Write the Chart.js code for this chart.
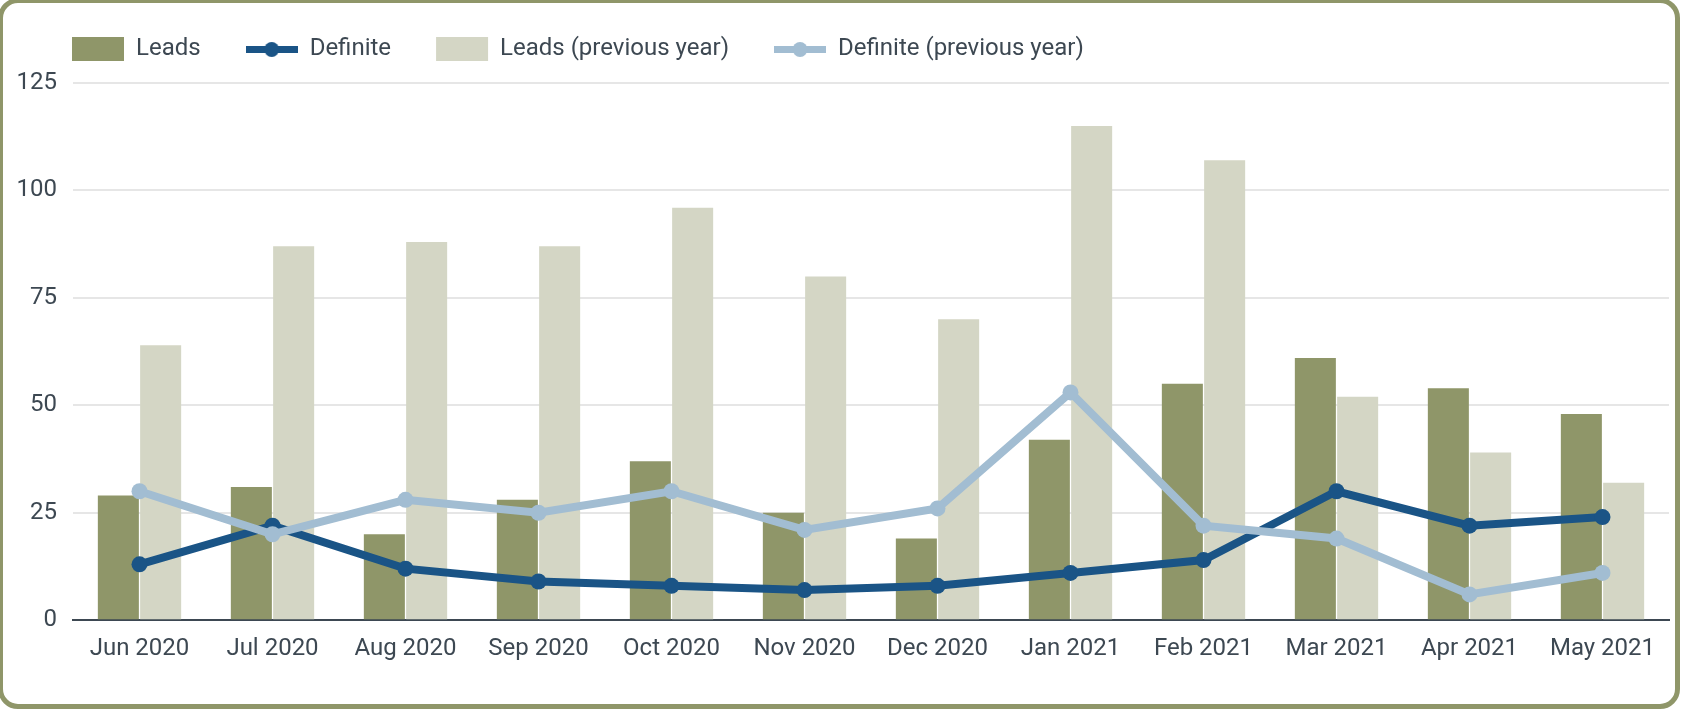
<!DOCTYPE html>
<html>
<head>
<meta charset="utf-8">
<script src="https://cdn.jsdelivr.net/npm/chart.js@4"></script>
<style>
  html, body { margin: 0; padding: 0; background: #fff; overflow: hidden; }
  #frame {
    position: absolute; left: -2px; top: -2px; width: 1682px; height: 711px;
    box-sizing: border-box; border: 5px solid #8f9669; border-radius: 20px;
  }
  #chart { position: absolute; left: 0; top: 0; }
</style>
</head>
<body>
<div id="frame"></div>
<canvas id="chart" width="1687" height="714"></canvas>
<script>
// months on the x axis
const months = ['Jun 2020', 'Jul 2020', 'Aug 2020', 'Sep 2020', 'Oct 2020', 'Nov 2020',
                'Dec 2020', 'Jan 2021', 'Feb 2021', 'Mar 2021', 'Apr 2021', 'May 2021'];

// series values
const leads        = [29, 31, 20, 28, 37, 25, 19, 42, 55, 61, 54, 48];
const definite     = [13, 22, 12,  9,  8,  7,  8, 11, 14, 30, 22, 24];
const leadsPrev    = [64, 87, 88, 87, 96, 80, 70, 115, 107, 52, 39, 32];
const definitePrev = [30, 20, 28, 25, 30, 21, 26, 53, 22, 19,  6, 11];

const yTicks = [0, 25, 50, 75, 100, 125];

const OLIVE = '#8f9669', OLIVE_LIGHT = '#d4d6c5';
const BLUE = '#1a5486', BLUE_LIGHT = '#a2bdd2';
const TEXT = '#3d4852';

// little line+dot marker for the legend
function lineMarker(color) {
  const c = document.createElement('canvas');
  c.width = 52; c.height = 16;
  const g = c.getContext('2d');
  g.fillStyle = color;
  g.fillRect(0, 5, 52, 7);
  g.beginPath();
  g.arc(26, 8.5, 7.5, 0, Math.PI * 2);
  g.fill();
  return c;
}

function lineSet(label, data, color, order) {
  return {
    type: 'line', label, data, order,
    borderColor: color, backgroundColor: color,
    borderWidth: 8, tension: 0,
    pointRadius: 8, pointHoverRadius: 8, pointBorderWidth: 0,
    pointBackgroundColor: color,
    legendMarker: lineMarker(color)
  };
}

// nudge the legend: left edge lines up with the plot, sits a bit higher
const legendNudge = {
  id: 'legendNudge',
  afterLayout(chart) {
    chart.legend.left += 12;
    chart.legend.top -= 12;
  }
};

Chart.defaults.font.family = 'Roboto';
Chart.defaults.color = TEXT;

new Chart(document.getElementById('chart'), {
  type: 'bar',
  data: {
    labels: months,
    datasets: [
      { label: 'Leads', data: leads, backgroundColor: OLIVE, order: 2,
        barPercentage: 0.97, categoryPercentage: 0.636 },
      lineSet('Definite', definite, BLUE, 1),
      { label: 'Leads (previous year)', data: leadsPrev, backgroundColor: OLIVE_LIGHT, order: 3,
        barPercentage: 0.97, categoryPercentage: 0.636 },
      lineSet('Definite (previous year)', definitePrev, BLUE_LIGHT, 0)
    ]
  },
  options: {
    responsive: false,
    animation: false,
    layout: { padding: { left: 15, right: 18, top: 4, bottom: 37 } },
    plugins: {
      tooltip: { enabled: false },
      legend: {
        align: 'start',
        labels: {
          font: { size: 24 },
          color: TEXT,
          padding: 45,
          usePointStyle: true,
          pointStyleWidth: 52,
          boxHeight: 24,
          sort: (a, b) => a.datasetIndex - b.datasetIndex,
          generateLabels(chart) {
            const items = Chart.defaults.plugins.legend.labels.generateLabels(chart);
            items.forEach(it => {
              const ds = chart.data.datasets[it.datasetIndex];
              it.pointStyle = ds.legendMarker || 'rect';
              it.lineWidth = 0;
            });
            return items;
          }
        }
      }
    },
    scales: {
      x: {
        grid: { display: false, drawTicks: false },
        border: { display: true, color: '#3d4852', width: 2 },
        ticks: { font: { size: 24 }, color: TEXT, padding: 14, maxRotation: 0, autoSkip: false }
      },
      y: {
        min: 0, max: 125,
        afterBuildTicks: (s) => { s.ticks = yTicks.map(v => ({ value: v })); },
        afterFit: (s) => { s.width = 58; },
        grid: { color: '#e6e6e6', lineWidth: 2, drawTicks: false },
        border: { display: false },
        ticks: { font: { size: 24 }, color: TEXT, padding: 16 }
      }
    }
  },
  plugins: [legendNudge]
});
</script>
</body>
</html>
